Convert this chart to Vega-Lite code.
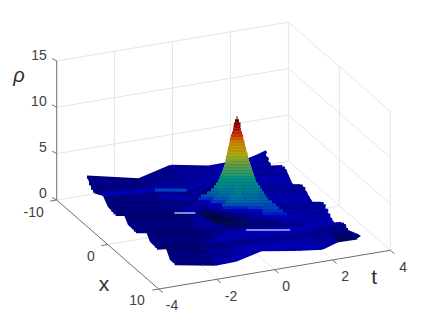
{"$schema":"https://vega.github.io/schema/vega-lite/v6.json","width":432,"height":324,"padding":0,"autosize":"none","background":"white","config":{"view":{"stroke":null}},
"datasets":{
"grid":[
{"t":-4,"t2":4,"x":-10,"x2":-10,"r":0,"r2":0},{"t":-4,"t2":4,"x":-10,"x2":-10,"r":5,"r2":5},{"t":-4,"t2":4,"x":-10,"x2":-10,"r":10,"r2":10},{"t":-4,"t2":4,"x":-10,"x2":-10,"r":15,"r2":15},
{"t":-2,"t2":-2,"x":-10,"x2":-10,"r":0,"r2":15},{"t":0,"t2":0,"x":-10,"x2":-10,"r":0,"r2":15},{"t":2,"t2":2,"x":-10,"x2":-10,"r":0,"r2":15},{"t":4,"t2":4,"x":-10,"x2":-10,"r":0,"r2":15},
{"t":4,"t2":4,"x":-10,"x2":10,"r":0,"r2":0},{"t":4,"t2":4,"x":-10,"x2":10,"r":5,"r2":5},{"t":4,"t2":4,"x":-10,"x2":10,"r":10,"r2":10},{"t":4,"t2":4,"x":-10,"x2":10,"r":15,"r2":15},
{"t":4,"t2":4,"x":0,"x2":0,"r":0,"r2":15},{"t":4,"t2":4,"x":10,"x2":10,"r":0,"r2":15},
{"t":-2,"t2":-2,"x":-10,"x2":10,"r":0,"r2":0},{"t":0,"t2":0,"x":-10,"x2":10,"r":0,"r2":0},{"t":2,"t2":2,"x":-10,"x2":10,"r":0,"r2":0},{"t":-4,"t2":4,"x":0,"x2":0,"r":0,"r2":0}],
"axes":[
{"t":-4,"t2":-4,"x":-10,"x2":-10,"r":0,"r2":15},{"t":-4,"t2":-4,"x":-10,"x2":10,"r":0,"r2":0},{"t":-4,"t2":4,"x":10,"x2":10,"r":0,"r2":0},
{"t":-4,"t2":-4.05,"x":-10,"x2":-10.62,"r":0,"r2":0},{"t":-4,"t2":-4.05,"x":-10,"x2":-10.62,"r":5,"r2":5},{"t":-4,"t2":-4.05,"x":-10,"x2":-10.62,"r":10,"r2":10},{"t":-4,"t2":-4.05,"x":-10,"x2":-10.62,"r":15,"r2":15},
{"t":-4,"t2":-4.22,"x":-10,"x2":-10,"r":0,"r2":0},{"t":-4,"t2":-4.22,"x":0,"x2":0,"r":0,"r2":0},{"t":-4,"t2":-4.22,"x":10,"x2":10,"r":0,"r2":0},
{"t":-4,"t2":-4,"x":10,"x2":10.8,"r":0,"r2":0},{"t":-2,"t2":-2,"x":10,"x2":10.8,"r":0,"r2":0},{"t":0,"t2":0,"x":10,"x2":10.8,"r":0,"r2":0},{"t":2,"t2":2,"x":10,"x2":10.8,"r":0,"r2":0},{"t":4,"t2":4,"x":10,"x2":10.8,"r":0,"r2":0}],
"labels":[
{"t":-4.35,"x":-11.5,"r":15,"s":"15"},{"t":-4.34,"x":-11.56,"r":10,"s":"10"},{"t":-4.21,"x":-11.5,"r":5,"s":"5"},{"t":-4.2,"x":-11.56,"r":0,"s":"0"},
{"t":-5.1,"x":-8.28,"r":0,"s":"-10"},{"t":-4.9,"x":1.83,"r":0,"s":"0"},{"t":-5.03,"x":11.58,"r":0,"s":"10"},
{"t":-4.18,"x":13.63,"r":0,"s":"-4"},{"t":-2.17,"x":13.79,"r":0,"s":"-2"},{"t":-0.24,"x":13.65,"r":0,"s":"0"},{"t":1.8,"x":13.6,"r":0,"s":"2"},{"t":3.78,"x":13.74,"r":0,"s":"4"}],
"titles":[{"t":-5.45,"x":7.52,"r":0,"s":"x"},{"t":2.61,"x":14.7,"r":0,"s":"t"}],
"rho":[{"t":-4.05,"x":-17.09,"r":10,"s":"ρ"}],
"body":[
{"t":-4.891,"r":5.52,"r2":5.52},{"t":-4.718,"r":5.49,"r2":4.23},{"t":-4.546,"r":5.46,"r2":3.69},{"t":-4.338,"r":5.39,"r2":3.47},{"t":-4.166,"r":5.36,"r2":2.29},{"t":-3.924,"r":5.31,"r2":1.53},{"t":-3.613,"r":5.25,"r2":1.42},{"t":-3.475,"r":5.2,"r2":0.35},{"t":-3.233,"r":5.2,"r2":-0.3},{"t":-2.854,"r":5.63,"r2":-0.36},{"t":-2.716,"r":5.85,"r2":-1.49},{"t":-2.474,"r":6.17,"r2":-2.14},{"t":-2.163,"r":6.6,"r2":-2.19},{"t":-2.025,"r":6.71,"r2":-3.43},{"t":-1.852,"r":6.71,"r2":-3.86},{"t":-0.436,"r":6.71,"r2":-3.97},{"t":0.254,"r":7.03,"r2":-3.54},{"t":0.668,"r":7.57,"r2":-3},{"t":0.979,"r":7.9,"r2":-2.57},{"t":1.255,"r":8.22,"r2":-2.28},{"t":1.359,"r":7.36,"r2":-2.24},{"t":1.497,"r":6.49,"r2":-2.26},{"t":1.98,"r":6.39,"r2":-2.35},{"t":2.22,"r":4.66,"r2":-2.35},{"t":2.567,"r":4.55,"r2":-2.35},{"t":2.913,"r":2.72,"r2":-2.35},{"t":3.258,"r":2.61,"r2":-2.24},{"t":3.638,"r":0.56,"r2":-1.58},{"t":3.983,"r":0.45,"r2":-1.11},{"t":4.122,"r":-0.19,"r2":-1.11},{"t":4.467,"r":-0.63,"r2":-1.06},{"t":4.57,"r":-0.84,"r2":-0.84}],
"rear":[
{"x":-8.6,"t":-3.2,"t2":-1.4,"r":2.73,"r2":1.49,"v":1.3},{"x":-8.6,"t":-1.4,"t2":-0.3,"r":1.49,"r2":2.38,"v":1.5},{"x":-8.6,"t":-0.3,"t2":1,"r":2.38,"r2":1.6,"v":1.8},{"x":-8.6,"t":1,"t2":2.4,"r":1.6,"r2":1.66,"v":2.2},{"x":-8.6,"t":2.4,"t2":3,"r":1.66,"r2":2.22,"v":2.4},
{"x":-8.2,"t":-3.2,"t2":-1.4,"r":2.2,"r2":1.5,"v":1.3},{"x":-8.2,"t":-1.4,"t2":-0.3,"r":1.5,"r2":2.3,"v":1.5},{"x":-8.2,"t":-0.3,"t2":1,"r":2.3,"r2":1.6,"v":1.8},{"x":-8.2,"t":1,"t2":2.4,"r":1.6,"r2":1.6,"v":2.2},{"x":-8.2,"t":2.4,"t2":3,"r":1.6,"r2":1.7,"v":2.4},
{"x":-7.8,"t":-3.2,"t2":-1.4,"r":1.9,"r2":1.6,"v":1.3},{"x":-7.8,"t":-1.4,"t2":-0.3,"r":1.6,"r2":2.15,"v":1.5},{"x":-7.8,"t":-0.3,"t2":1,"r":2.15,"r2":1.6,"v":1.8},{"x":-7.8,"t":1,"t2":2.4,"r":1.6,"r2":1.4,"v":2.2},{"x":-7.8,"t":2.4,"t2":3,"r":1.4,"r2":1.3,"v":2.4},
{"x":-7.4,"t":-3.2,"t2":-1.4,"r":1.75,"r2":1.7,"v":1.3},{"x":-7.4,"t":-1.4,"t2":-0.3,"r":1.7,"r2":2,"v":1.5},{"x":-7.4,"t":-0.3,"t2":1,"r":2,"r2":1.6,"v":1.8},{"x":-7.4,"t":1,"t2":2.4,"r":1.6,"r2":1.2,"v":2.2},{"x":-7.4,"t":2.4,"t2":3,"r":1.2,"r2":1,"v":2.4},
{"x":-7,"t":-3.2,"t2":-1.4,"r":1.8,"r2":1.8,"v":1.3},{"x":-7,"t":-1.4,"t2":-0.3,"r":1.8,"r2":1.88,"v":1.5},{"x":-7,"t":-0.3,"t2":1,"r":1.88,"r2":1.7,"v":1.8},{"x":-7,"t":1,"t2":2.4,"r":1.7,"r2":1.2,"v":2.2},{"x":-7,"t":2.4,"t2":3,"r":1.2,"r2":1,"v":2.4},
{"x":-6.5,"t":-3.2,"t2":-1.4,"r":2,"r2":1.85,"v":1.5},{"x":-6.5,"t":-1.4,"t2":-0.3,"r":1.85,"r2":1.7,"v":1.8},{"x":-6.5,"t":-0.3,"t2":1,"r":1.7,"r2":1.9,"v":1.8},{"x":-6.5,"t":1,"t2":2.4,"r":1.9,"r2":1.6,"v":2.4},{"x":-6.5,"t":2.4,"t2":3,"r":1.6,"r2":1.4,"v":2.4},
{"x":-6,"t":-3.2,"t2":-1.4,"r":2.2,"r2":1.86,"v":1.8},{"x":-6,"t":-1.4,"t2":-0.3,"r":1.86,"r2":1.5,"v":2.3},{"x":-6,"t":-0.3,"t2":1,"r":1.5,"r2":2.2,"v":2},{"x":-6,"t":1,"t2":2.4,"r":2.2,"r2":2,"v":2.4},{"x":-6,"t":2.4,"t2":3,"r":2,"r2":1.8,"v":2.4},
{"x":-5.5,"t":-3.2,"t2":-1.4,"r":2.28,"r2":1.88,"v":2.8},{"x":-5.5,"t":-1.4,"t2":-0.3,"r":1.88,"r2":1.3,"v":3.5},{"x":-5.5,"t":-0.3,"t2":1,"r":1.3,"r2":2.5,"v":2.5},{"x":-5.5,"t":1,"t2":2.4,"r":2.5,"r2":2.35,"v":2},{"x":-5.5,"t":2.4,"t2":3,"r":2.35,"r2":2.1,"v":2},
{"x":-5,"t":-3.2,"t2":-1.4,"r":2.1,"r2":1.46,"v":1.2},{"x":-5,"t":-1.4,"t2":-0.3,"r":1.46,"r2":0.68,"v":2.3},{"x":-5,"t":-0.3,"t2":1,"r":0.68,"r2":2.8,"v":2},{"x":-5,"t":1,"t2":2.4,"r":2.8,"r2":2.45,"v":1.7},{"x":-5,"t":2.4,"t2":3,"r":2.45,"r2":2.18,"v":1.7},
{"x":-4.6,"t":-3.2,"t2":-1.4,"r":1.9,"r2":0.9,"v":1},{"x":-4.6,"t":-1.4,"t2":-0.3,"r":0.9,"r2":0.2,"v":1.2},{"x":-4.6,"t":-0.3,"t2":1,"r":0.2,"r2":2.7,"v":1.2},{"x":-4.6,"t":1,"t2":2.4,"r":2.7,"r2":2.3,"v":2.2},{"x":-4.6,"t":2.4,"t2":3,"r":2.3,"r2":2,"v":2.4},
{"x":-4.2,"t":-3.2,"t2":-1.4,"r":1.6,"r2":0.56,"v":1.1},{"x":-4.2,"t":-1.4,"t2":-0.3,"r":0.56,"r2":0,"v":1.3},{"x":-4.2,"t":-0.3,"t2":1,"r":0,"r2":2.4,"v":1.2},{"x":-4.2,"t":1,"t2":2.4,"r":2.4,"r2":1.9,"v":2.4},{"x":-4.2,"t":2.4,"t2":3,"r":1.9,"r2":1.6,"v":2.5},
{"x":-3.8,"t":-3.2,"t2":-1.4,"r":1.45,"r2":0.32,"v":1.2},{"x":-3.8,"t":-1.4,"t2":-0.3,"r":0.32,"r2":0,"v":1.5},{"x":-3.8,"t":-0.3,"t2":1,"r":0,"r2":2.1,"v":1.2},{"x":-3.8,"t":1,"t2":2.4,"r":2.1,"r2":1.6,"v":2.6},{"x":-3.8,"t":2.4,"t2":3,"r":1.6,"r2":1.3,"v":2.6},
{"x":-3.4,"t":-3.2,"t2":-1,"r":1.38,"r2":0.23,"v":1.3},{"x":-3.4,"t":-1,"t2":1,"r":0.23,"r2":2.13,"v":2},{"x":-3.4,"t":1,"t2":3,"r":2.13,"r2":1.13,"v":2.6},
{"x":-3,"t":-3.2,"t2":-1,"r":1.4,"r2":0.25,"v":1.3},{"x":-3,"t":-1,"t2":1,"r":0.25,"r2":2.1,"v":2},{"x":-3,"t":1,"t2":3,"r":2.1,"r2":1.1,"v":2.6},
{"x":-2.5,"t":-3.2,"t2":-1,"r":1.7,"r2":0.55,"v":1.3},{"x":-2.5,"t":-1,"t2":1,"r":0.55,"r2":2.4,"v":2},{"x":-2.5,"t":1,"t2":3,"r":2.4,"r2":1.4,"v":2.6},
{"x":-2,"t":-3.2,"t2":-1,"r":2,"r2":0.85,"v":1.3},{"x":-2,"t":-1,"t2":1,"r":0.85,"r2":2.7,"v":2},{"x":-2,"t":1,"t2":3,"r":2.7,"r2":1.7,"v":2.4},
{"x":-1.5,"t":-3.2,"t2":-1,"r":2.23,"r2":1.08,"v":1.3},{"x":-1.5,"t":-1,"t2":1,"r":1.08,"r2":2.93,"v":2.4},{"x":-1.5,"t":1,"t2":3,"r":2.93,"r2":1.93,"v":1.7},
{"x":-1,"t":-3.2,"t2":-1,"r":2.2,"r2":1.05,"v":0.9},{"x":-1,"t":-1,"t2":1,"r":1.05,"r2":2.9,"v":1.3},{"x":-1,"t":1,"t2":3,"r":2.9,"r2":1.9,"v":1.9},
{"x":-0.6,"t":-3.2,"t2":-1,"r":1.95,"r2":0.8,"v":1},{"x":-0.6,"t":-1,"t2":1,"r":0.8,"r2":2.6,"v":1.6},{"x":-0.6,"t":1,"t2":3,"r":2.6,"r2":1.6,"v":2.2},
{"x":-0.2,"t":-3.2,"t2":-1,"r":1.7,"r2":0.55,"v":1.2},{"x":-0.2,"t":-1,"t2":1,"r":0.55,"r2":2.3,"v":2},{"x":-0.2,"t":1,"t2":3,"r":2.3,"r2":1.3,"v":2.6},
{"x":0.2,"t":-3.2,"t2":-1,"r":1.5,"r2":0.35,"v":1.3},{"x":0.2,"t":-1,"t2":1,"r":0.35,"r2":2.1,"v":2},{"x":0.2,"t":1,"t2":3,"r":2.1,"r2":1.1,"v":2.6},
{"x":0.6,"t":-3.2,"t2":-1,"r":1.42,"r2":0.27,"v":1.3},{"x":0.6,"t":-1,"t2":1,"r":0.27,"r2":2.06,"v":2},{"x":0.6,"t":1,"t2":3,"r":2.06,"r2":1.06,"v":2.6},
{"x":1,"t":-3.2,"t2":-1,"r":1.45,"r2":0.3,"v":1.3},{"x":1,"t":-1,"t2":1,"r":0.3,"r2":2.1,"v":2},{"x":1,"t":1,"t2":3,"r":2.1,"r2":1.1,"v":2.6},
{"x":1.5,"t":-3.2,"t2":-1,"r":1.8,"r2":0.65,"v":1.3},{"x":1.5,"t":-1,"t2":1,"r":0.65,"r2":2.4,"v":2.1},{"x":1.5,"t":1,"t2":3,"r":2.4,"r2":1.4,"v":2.6},
{"x":2,"t":-3.2,"t2":-1,"r":2.1,"r2":0.95,"v":1.3},{"x":2,"t":-1,"t2":1,"r":0.95,"r2":2.75,"v":2.1},{"x":2,"t":1,"t2":3,"r":2.75,"r2":1.75,"v":2.5},
{"x":2.6,"t":-3.2,"t2":-1,"r":2.45,"r2":1.3,"v":1.3},{"x":2.6,"t":-1,"t2":1,"r":1.3,"r2":3,"v":2.3},{"x":2.6,"t":1,"t2":3,"r":3,"r2":2,"v":1.7},
{"x":3,"t":-3.2,"t2":-1,"r":2.48,"r2":1.33,"v":0.9},{"x":3,"t":-1,"t2":1,"r":1.33,"r2":2.95,"v":1.3},{"x":3,"t":1,"t2":3,"r":2.95,"r2":1.95,"v":1.9},
{"x":3.5,"t":-3.2,"t2":-1,"r":2.2,"r2":1.05,"v":1},{"x":3.5,"t":-1,"t2":1,"r":1.05,"r2":2.7,"v":1.8},{"x":3.5,"t":1,"t2":3,"r":2.7,"r2":1.7,"v":2.2},
{"x":3.9,"t":-3.2,"t2":-1,"r":1.95,"r2":0.8,"v":1.2},{"x":3.9,"t":-1,"t2":1,"r":0.8,"r2":2.4,"v":2.1},{"x":3.9,"t":1,"t2":3,"r":2.4,"r2":1.4,"v":2.6},
{"x":4.3,"t":-3.2,"t2":-1,"r":1.75,"r2":0.6,"v":1.3},{"x":4.3,"t":-1,"t2":1,"r":0.6,"r2":2.1,"v":2.2},{"x":4.3,"t":1,"t2":3,"r":2.1,"r2":1.1,"v":2.6}],
"hump":[
{"t":0.27,"t2":0.306,"r":11.89,"v":12},{"t":0.22,"t2":0.358,"r":11.57,"v":11.8},{"t":0.185,"t2":0.41,"r":11.24,"v":11.3},{"t":0.167,"t2":0.41,"r":10.92,"v":11},{"t":0.15,"t2":0.427,"r":10.6,"v":10.7},{"t":0.116,"t2":0.461,"r":10.27,"v":10.3},{"t":0.081,"t2":0.496,"r":9.95,"v":10},{"t":0.047,"t2":0.513,"r":9.62,"v":9.6},{"t":0.03,"t2":0.548,"r":9.3,"v":9.2},{"t":0.012,"t2":0.565,"r":8.98,"v":8.9},{"t":-0.022,"t2":0.599,"r":8.65,"v":8.6},{"t":-0.04,"t2":0.617,"r":8.33,"v":8.3},{"t":-0.057,"t2":0.651,"r":8.01,"v":8},{"t":-0.091,"t2":0.668,"r":7.68,"v":7.7},{"t":-0.108,"t2":0.703,"r":7.36,"v":7.4},{"t":-0.126,"t2":0.737,"r":7.04,"v":7.1},{"t":-0.16,"t2":0.772,"r":6.71,"v":6.8},{"t":-0.195,"t2":0.807,"r":6.39,"v":6.5},{"t":-0.229,"t2":0.841,"r":6.06,"v":6.2},{"t":-0.281,"t2":0.876,"r":5.74,"v":5.9},{"t":-0.316,"t2":0.91,"r":5.42,"v":5.6},{"t":-0.367,"t2":0.945,"r":5.09,"v":5.3},{"t":-0.436,"t2":1.014,"r":4.77,"v":5},{"t":-0.506,"t2":1.083,"r":4.45,"v":4.9},
{"t":-0.609,"t2":-0.376,"r":4.12,"v":4.3},{"t":-0.376,"t2":0.124,"r":4.12,"v":4.65},{"t":0.124,"t2":0.487,"r":4.12,"v":5},{"t":0.487,"t2":0.987,"r":4.12,"v":4.7},{"t":0.987,"t2":1.152,"r":4.12,"v":4.4},
{"t":-0.747,"t2":-0.376,"r":3.8,"v":4},{"t":-0.376,"t2":0.124,"r":3.8,"v":4.4},{"t":0.124,"t2":0.487,"r":3.8,"v":4.8},{"t":0.487,"t2":0.987,"r":3.8,"v":4.5},{"t":0.987,"t2":1.221,"r":3.8,"v":4.2},
{"t":-0.954,"t2":-0.479,"r":3.47,"v":3.7},{"t":-0.479,"t2":0.021,"r":3.47,"v":4.15},{"t":0.021,"t2":0.557,"r":3.47,"v":4.6},{"t":0.557,"t2":1.057,"r":3.47,"v":4.3},{"t":1.057,"t2":1.29,"r":3.47,"v":4},
{"t":-1.058,"t2":-0.548,"r":3.15,"v":3.2},{"t":-0.548,"t2":-0.048,"r":3.15,"v":3.8},{"t":-0.048,"t2":0.557,"r":3.15,"v":4.4},{"t":0.557,"t2":1.057,"r":3.15,"v":4.2},{"t":1.057,"t2":1.359,"r":3.15,"v":4},
{"t":-1.058,"t2":-0.617,"r":2.83,"v":2.5},{"t":-0.617,"t2":-0.117,"r":2.83,"v":3.3},{"t":-0.117,"t2":0.66,"r":2.83,"v":4.1},{"t":0.66,"t2":1.16,"r":2.83,"v":3.95},{"t":1.16,"t2":1.497,"r":2.83,"v":3.8},
{"t":-1.058,"t2":-0.721,"r":2.5,"v":2},{"t":-0.721,"t2":-0.221,"r":2.5,"v":2.85},{"t":-0.221,"t2":0.764,"r":2.5,"v":3.7},{"t":0.764,"t2":1.264,"r":2.5,"v":3.65},{"t":1.264,"t2":1.635,"r":2.5,"v":3.6},
{"t":-1.058,"t2":-0.721,"r":2.18,"v":1.5},{"t":-0.721,"t2":-0.221,"r":2.18,"v":2.3},{"t":-0.221,"t2":0.66,"r":2.18,"v":3.1},{"t":0.66,"t2":1.16,"r":2.18,"v":3.3},{"t":1.16,"t2":1.739,"r":2.18,"v":3.5},
{"t":-0.989,"t2":-0.548,"r":1.86,"v":1},{"t":-0.548,"t2":-0.048,"r":1.86,"v":1.75},{"t":-0.048,"t2":0.66,"r":1.86,"v":2.5},{"t":0.66,"t2":1.16,"r":1.86,"v":2.9},{"t":1.16,"t2":1.877,"r":1.86,"v":3.3},
{"t":-0.989,"t2":-0.376,"r":1.53,"v":0.5},{"t":-0.376,"t2":0.124,"r":1.53,"v":1.15},{"t":0.124,"t2":0.66,"r":1.53,"v":1.8},{"t":0.66,"t2":1.16,"r":1.53,"v":2.45},{"t":1.16,"t2":2.015,"r":1.53,"v":3.1},
{"t":-0.816,"t2":-0.203,"r":1.21,"v":0.3},{"t":-0.203,"t2":0.297,"r":1.21,"v":0.9},{"t":0.297,"t2":0.902,"r":1.21,"v":1.5},{"t":0.902,"t2":1.402,"r":1.21,"v":2.15},{"t":1.402,"t2":2.187,"r":1.21,"v":2.8},
{"t":-0.644,"t2":0.142,"r":0.89,"v":0.4},{"t":0.142,"t2":0.642,"r":0.89,"v":0.8},{"t":0.642,"t2":1.178,"r":0.89,"v":1.2},{"t":1.178,"t2":1.678,"r":0.89,"v":1.7},{"t":1.678,"t2":2.359,"r":0.89,"v":2.2},
{"t":-0.471,"t2":0.565,"r":0.56,"v":0.6},{"t":0.565,"t2":1.773,"r":0.56,"v":1.2},{"t":1.773,"t2":2.532,"r":0.56,"v":1.8},
{"t":-0.126,"t2":0.737,"r":0.24,"v":0.8},{"t":0.737,"t2":2.808,"r":0.24,"v":1.2},
{"t":0.22,"t2":2.808,"r":-0.08,"v":1.5}],
"front":[
{"x":4.7,"t":-3.2,"t2":-1.8,"r":1.65,"r2":1.08,"v":1.3},{"x":4.7,"t":-1.8,"t2":-1.1,"r":1.08,"r2":1.16,"v":2.1},{"x":4.7,"t":-1.1,"t2":-0.2,"r":1.16,"r2":1.76,"v":2.4},{"x":4.7,"t":-0.2,"t2":1,"r":1.76,"r2":1.35,"v":2.4},{"x":4.7,"t":1,"t2":1.9,"r":1.35,"r2":1.1,"v":2.4},{"x":4.7,"t":1.9,"t2":2.4,"r":1.1,"r2":1.2,"v":2.4},{"x":4.7,"t":2.4,"t2":3,"r":1.2,"r2":0.9,"v":2.6},
{"x":5.1,"t":-3.2,"t2":-1.8,"r":1.65,"r2":1.15,"v":1.3},{"x":5.1,"t":-1.8,"t2":-1.1,"r":1.15,"r2":1.2,"v":2.1},{"x":5.1,"t":-1.1,"t2":-0.2,"r":1.2,"r2":1.7,"v":2.4},{"x":5.1,"t":-0.2,"t2":1,"r":1.7,"r2":1.35,"v":2.4},{"x":5.1,"t":1,"t2":1.9,"r":1.35,"r2":1.12,"v":2.4},{"x":5.1,"t":1.9,"t2":2.4,"r":1.12,"r2":1.25,"v":2.4},{"x":5.1,"t":2.4,"t2":3,"r":1.25,"r2":0.95,"v":2.6},
{"x":5.6,"t":-3.2,"t2":-1.8,"r":2,"r2":1.5,"v":1.3},{"x":5.6,"t":-1.8,"t2":-1.1,"r":1.5,"r2":1.4,"v":2.1},{"x":5.6,"t":-1.1,"t2":-0.2,"r":1.4,"r2":1.7,"v":2.4},{"x":5.6,"t":-0.2,"t2":1,"r":1.7,"r2":1.4,"v":2.4},{"x":5.6,"t":1,"t2":1.9,"r":1.4,"r2":1.2,"v":2.4},{"x":5.6,"t":1.9,"t2":2.4,"r":1.2,"r2":1.35,"v":2.4},{"x":5.6,"t":2.4,"t2":3,"r":1.35,"r2":1.3,"v":2.6},
{"x":6.1,"t":-3.2,"t2":-1.8,"r":2.3,"r2":1.8,"v":1.2},{"x":6.1,"t":-1.8,"t2":-1.1,"r":1.8,"r2":1.6,"v":2},{"x":6.1,"t":-1.1,"t2":-0.2,"r":1.6,"r2":1.7,"v":2.3},{"x":6.1,"t":-0.2,"t2":1,"r":1.7,"r2":1.42,"v":2.3},{"x":6.1,"t":1,"t2":1.9,"r":1.42,"r2":1.35,"v":2.3},{"x":6.1,"t":1.9,"t2":2.4,"r":1.35,"r2":1.5,"v":2.3},{"x":6.1,"t":2.4,"t2":3,"r":1.5,"r2":1.55,"v":2.5},
{"x":6.6,"t":-3.2,"t2":-1.8,"r":2.5,"r2":2,"v":0.9},{"x":6.6,"t":-1.8,"t2":-1.1,"r":2,"r2":1.75,"v":1.4},{"x":6.6,"t":-1.1,"t2":-0.2,"r":1.75,"r2":1.7,"v":1.7},{"x":6.6,"t":-0.2,"t2":1,"r":1.7,"r2":1.45,"v":1.8},{"x":6.6,"t":1,"t2":1.9,"r":1.45,"r2":1.45,"v":1.8},{"x":6.6,"t":1.9,"t2":2.4,"r":1.45,"r2":1.7,"v":2},{"x":6.6,"t":2.4,"t2":3,"r":1.7,"r2":1.73,"v":2},
{"x":7,"t":-3.2,"t2":-1.8,"r":2.5,"r2":2.05,"v":0.8},{"x":7,"t":-1.8,"t2":-1.1,"r":2.05,"r2":1.8,"v":1.2},{"x":7,"t":-1.1,"t2":-0.2,"r":1.8,"r2":1.65,"v":1.5},{"x":7,"t":-0.2,"t2":1,"r":1.65,"r2":1.45,"v":1.6},{"x":7,"t":1,"t2":1.9,"r":1.45,"r2":1.5,"v":1.6},{"x":7,"t":1.9,"t2":2.4,"r":1.5,"r2":1.8,"v":1.4},{"x":7,"t":2.4,"t2":3,"r":1.8,"r2":1.75,"v":1.2},
{"x":7.4,"t":-3.2,"t2":-1.8,"r":2.2,"r2":1.65,"v":1},{"x":7.4,"t":-1.8,"t2":-1.1,"r":1.65,"r2":1.45,"v":1.8},{"x":7.4,"t":-1.1,"t2":-0.2,"r":1.45,"r2":1.65,"v":2.2},{"x":7.4,"t":-0.2,"t2":1,"r":1.65,"r2":1.25,"v":2.2},{"x":7.4,"t":1,"t2":1.9,"r":1.25,"r2":1.2,"v":2.2},{"x":7.4,"t":1.9,"t2":2.4,"r":1.2,"r2":1.5,"v":1.8},{"x":7.4,"t":2.4,"t2":3,"r":1.5,"r2":1.5,"v":1.2},
{"x":7.8,"t":-3.2,"t2":-1.8,"r":1.9,"r2":1.25,"v":1.2},{"x":7.8,"t":-1.8,"t2":-1.1,"r":1.25,"r2":1.2,"v":2},{"x":7.8,"t":-1.1,"t2":-0.2,"r":1.2,"r2":1.65,"v":2.4},{"x":7.8,"t":-0.2,"t2":1,"r":1.65,"r2":1.1,"v":2.4},{"x":7.8,"t":1,"t2":1.9,"r":1.1,"r2":0.95,"v":2.4},{"x":7.8,"t":1.9,"t2":2.4,"r":0.95,"r2":1.3,"v":2},{"x":7.8,"t":2.4,"t2":3,"r":1.3,"r2":1.3,"v":1},
{"x":8.2,"t":-3.2,"t2":-1.8,"r":1.7,"r2":0.95,"v":1.3},{"x":8.2,"t":-1.8,"t2":-1.1,"r":0.95,"r2":1,"v":2.2},{"x":8.2,"t":-1.1,"t2":-0.2,"r":1,"r2":1.6,"v":2.5},{"x":8.2,"t":-0.2,"t2":1,"r":1.6,"r2":1,"v":2.5},{"x":8.2,"t":1,"t2":1.9,"r":1,"r2":0.75,"v":2.5},{"x":8.2,"t":1.9,"t2":2.4,"r":0.75,"r2":1.2,"v":2},{"x":8.2,"t":2.4,"t2":3,"r":1.2,"r2":1.2,"v":0.8},
{"x":8.6,"t":-3.2,"t2":-1.8,"r":1.65,"r2":0.85,"v":1.3},{"x":8.6,"t":-1.8,"t2":-1.1,"r":0.85,"r2":0.92,"v":2.2},{"x":8.6,"t":-1.1,"t2":-0.2,"r":0.92,"r2":1.6,"v":2.5},{"x":8.6,"t":-0.2,"t2":1,"r":1.6,"r2":1,"v":2.5},{"x":8.6,"t":1,"t2":1.9,"r":1,"r2":0.65,"v":2.5},{"x":8.6,"t":1.9,"t2":2.4,"r":0.65,"r2":1.17,"v":2},{"x":8.6,"t":2.4,"t2":3.1,"r":1.17,"r2":1.13,"v":0.7}],
"glint":[{"x":-1.35,"t":-1.44,"t2":-0.75,"r":1.42,"r2":1.06},{"x":5,"t":-0.08,"t2":1.4,"r":1.92,"r2":1.15}]
},
"layer":[
{"data":{"name":"grid"},"transform":[{"calculate":"56.7+(datum.t+4)*28.96+(datum.x+10)*5.1","as":"sx"},{"calculate":"56.7+(datum.t2+4)*28.96+(datum.x2+10)*5.1","as":"sx2"},{"calculate":"200-(datum.t+4)*4.84+(datum.x+10)*4.45-datum.r*9.27","as":"sy"},{"calculate":"200-(datum.t2+4)*4.84+(datum.x2+10)*4.45-datum.r2*9.27","as":"sy2"}],
"mark":{"type":"rule","color":"#e6e6e6","strokeWidth":1},
"encoding":{"x":{"field":"sx","type":"quantitative","scale":{"domain":[0,432],"nice":false,"zero":false},"axis":null},"x2":{"field":"sx2"},"y":{"field":"sy","type":"quantitative","scale":{"domain":[324,0],"nice":false,"zero":false},"axis":null},"y2":{"field":"sy2"}}},
{"data":{"name":"axes"},"transform":[{"calculate":"56.7+(datum.t+4)*28.96+(datum.x+10)*5.1","as":"sx"},{"calculate":"56.7+(datum.t2+4)*28.96+(datum.x2+10)*5.1","as":"sx2"},{"calculate":"200-(datum.t+4)*4.84+(datum.x+10)*4.45-datum.r*9.27","as":"sy"},{"calculate":"200-(datum.t2+4)*4.84+(datum.x2+10)*4.45-datum.r2*9.27","as":"sy2"}],
"mark":{"type":"rule","color":"#6e6e6e","strokeWidth":1},
"encoding":{"x":{"field":"sx","type":"quantitative","scale":{"domain":[0,432],"nice":false,"zero":false},"axis":null},"x2":{"field":"sx2"},"y":{"field":"sy","type":"quantitative","scale":{"domain":[324,0],"nice":false,"zero":false},"axis":null},"y2":{"field":"sy2"}}},
{"data":{"name":"body"},"transform":[{"calculate":"56.7+(datum.t+4)*28.96+56.1","as":"sx"},{"calculate":"228.2-datum.r*9.27","as":"sy"},{"calculate":"228.2-datum.r2*9.27","as":"sy2"}],
"mark":{"type":"area","color":"#00008c","interpolate":"linear"},
"encoding":{"x":{"field":"sx","type":"quantitative","scale":{"domain":[0,432],"nice":false,"zero":false},"axis":null},"y":{"field":"sy","type":"quantitative","scale":{"domain":[324,0],"nice":false,"zero":false},"axis":null},"y2":{"field":"sy2"}}},
{"data":{"name":"rear"},"transform":[{"calculate":"56.7+(datum.t+4)*28.96+(datum.x+10)*5.1","as":"sx"},{"calculate":"56.7+(datum.t2+4)*28.96+(datum.x+10)*5.1","as":"sx2"},{"calculate":"200-(datum.t+4)*4.84+(datum.x+10)*4.45-datum.r*9.27","as":"sy"},{"calculate":"200-(datum.t2+4)*4.84+(datum.x+10)*4.45-datum.r2*9.27","as":"sy2"}],
"mark":{"type":"rule","strokeWidth":3.2},
"encoding":{"x":{"field":"sx","type":"quantitative","scale":{"domain":[0,432],"nice":false,"zero":false},"axis":null},"x2":{"field":"sx2"},"y":{"field":"sy","type":"quantitative","scale":{"domain":[324,0],"nice":false,"zero":false},"axis":null},"y2":{"field":"sy2"},
"color":{"field":"v","type":"quantitative","legend":null,"scale":{"domain":[0,1,2,3,4,5,6,7,8,9,10,11,12],"range":["#000028","#000070","#0000a0","#0000c0","#0060a0","#008585","#2a9a6a","#6a9c3c","#a8a000","#c08000","#c83000","#a00000","#500000"]}}}},
{"data":{"name":"hump"},"transform":[{"calculate":"56.7+(datum.t+4)*28.96+56.1","as":"sx"},{"calculate":"56.7+(datum.t2+4)*28.96+56.1","as":"sx2"},{"calculate":"228.2-datum.r*9.27","as":"sy"}],
"mark":{"type":"rule","strokeWidth":3.4},
"encoding":{"x":{"field":"sx","type":"quantitative","scale":{"domain":[0,432],"nice":false,"zero":false},"axis":null},"x2":{"field":"sx2"},"y":{"field":"sy","type":"quantitative","scale":{"domain":[324,0],"nice":false,"zero":false},"axis":null},
"color":{"field":"v","type":"quantitative","legend":null,"scale":{"domain":[0,1,2,3,4,5,6,7,8,9,10,11,12],"range":["#000028","#000070","#0000a0","#0000c0","#0060a0","#008585","#2a9a6a","#6a9c3c","#a8a000","#c08000","#c83000","#a00000","#500000"]}}}},
{"data":{"name":"front"},"transform":[{"calculate":"56.7+(datum.t+4)*28.96+(datum.x+10)*5.1","as":"sx"},{"calculate":"56.7+(datum.t2+4)*28.96+(datum.x+10)*5.1","as":"sx2"},{"calculate":"200-(datum.t+4)*4.84+(datum.x+10)*4.45-datum.r*9.27","as":"sy"},{"calculate":"200-(datum.t2+4)*4.84+(datum.x+10)*4.45-datum.r2*9.27","as":"sy2"}],
"mark":{"type":"rule","strokeWidth":3.2},
"encoding":{"x":{"field":"sx","type":"quantitative","scale":{"domain":[0,432],"nice":false,"zero":false},"axis":null},"x2":{"field":"sx2"},"y":{"field":"sy","type":"quantitative","scale":{"domain":[324,0],"nice":false,"zero":false},"axis":null},"y2":{"field":"sy2"},
"color":{"field":"v","type":"quantitative","legend":null,"scale":{"domain":[0,1,2,3,4,5,6,7,8,9,10,11,12],"range":["#000028","#000070","#0000a0","#0000c0","#0060a0","#008585","#2a9a6a","#6a9c3c","#a8a000","#c08000","#c83000","#a00000","#500000"]}}}},
{"data":{"name":"glint"},"transform":[{"calculate":"56.7+(datum.t+4)*28.96+(datum.x+10)*5.1","as":"sx"},{"calculate":"56.7+(datum.t2+4)*28.96+(datum.x+10)*5.1","as":"sx2"},{"calculate":"200-(datum.t+4)*4.84+(datum.x+10)*4.45-datum.r*9.27","as":"sy"},{"calculate":"200-(datum.t2+4)*4.84+(datum.x+10)*4.45-datum.r2*9.27","as":"sy2"}],
"mark":{"type":"rule","color":"#a9b8ff","strokeWidth":1.4,"strokeCap":"round"},
"encoding":{"x":{"field":"sx","type":"quantitative","scale":{"domain":[0,432],"nice":false,"zero":false},"axis":null},"x2":{"field":"sx2"},"y":{"field":"sy","type":"quantitative","scale":{"domain":[324,0],"nice":false,"zero":false},"axis":null},"y2":{"field":"sy2"}}},
{"data":{"name":"labels"},"transform":[{"calculate":"56.7+(datum.t+4)*28.96+(datum.x+10)*5.1","as":"sx"},{"calculate":"200-(datum.t+4)*4.84+(datum.x+10)*4.45-datum.r*9.27","as":"sy"}],
"mark":{"type":"text","font":"Liberation Sans","fontSize":14,"color":"#404040","align":"center","baseline":"middle"},
"encoding":{"x":{"field":"sx","type":"quantitative","scale":{"domain":[0,432],"nice":false,"zero":false},"axis":null},"y":{"field":"sy","type":"quantitative","scale":{"domain":[324,0],"nice":false,"zero":false},"axis":null},"text":{"field":"s"}}},
{"data":{"name":"titles"},"transform":[{"calculate":"56.7+(datum.t+4)*28.96+(datum.x+10)*5.1","as":"sx"},{"calculate":"200-(datum.t+4)*4.84+(datum.x+10)*4.45-datum.r*9.27","as":"sy"}],
"mark":{"type":"text","font":"Liberation Sans","fontSize":21,"color":"#303030","align":"center","baseline":"middle"},
"encoding":{"x":{"field":"sx","type":"quantitative","scale":{"domain":[0,432],"nice":false,"zero":false},"axis":null},"y":{"field":"sy","type":"quantitative","scale":{"domain":[324,0],"nice":false,"zero":false},"axis":null},"text":{"field":"s"}}},
{"data":{"name":"rho"},"transform":[{"calculate":"56.7+(datum.t+4)*28.96+(datum.x+10)*5.1","as":"sx"},{"calculate":"200-(datum.t+4)*4.84+(datum.x+10)*4.45-datum.r*9.27","as":"sy"}],
"mark":{"type":"text","font":"Liberation Sans","fontSize":20,"fontStyle":"italic","color":"#303030","align":"center","baseline":"middle"},
"encoding":{"x":{"field":"sx","type":"quantitative","scale":{"domain":[0,432],"nice":false,"zero":false},"axis":null},"y":{"field":"sy","type":"quantitative","scale":{"domain":[324,0],"nice":false,"zero":false},"axis":null},"text":{"field":"s"}}}
]}
